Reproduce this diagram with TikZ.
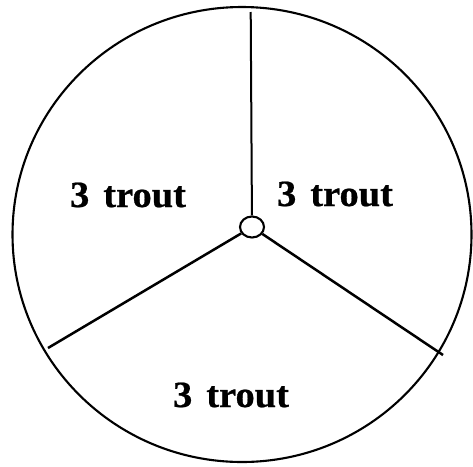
\documentclass[tikz,border=0pt]{standalone}
\usepackage{fontspec}
\setmainfont{Liberation Serif}[FakeStretch=1.04,FakeBold=0.6]
\usetikzlibrary{shapes.geometric}
\begin{document}
\begin{tikzpicture}[x=1pt,y=-1pt,
  rim/.style={line width=2.1pt},
  spoke/.style={line width=2.5pt},
  hubnode/.style={draw,ellipse,line width=2.1pt,minimum width=24pt,minimum height=21pt,inner sep=0pt},
  label/.style={anchor=base,inner sep=0pt,font=\fontsize{37}{37}\selectfont\bfseries}]
\useasboundingbox (0,0) rectangle (473,466);
\draw[rim] (242,234.5) ellipse [x radius=229.5, y radius=227.5];
\node[hubnode] (hub) at (252,227) {};
\coordinate (top) at (250.7,12);
\coordinate (left) at (48,348);
\coordinate (right) at (443,355);
\draw[spoke, line width=2pt] (hub) -- (top);
\draw[spoke] (hub) -- (left);
\draw[spoke] (hub) -- (right);
\node[label] (l1) at (128,207) {3\hspace{14pt}trout};
\node[label] (l2) at (335,206) {3\hspace{14pt}trout};
\node[label] (l3) at (231,407) {3\hspace{14pt}trout};
\end{tikzpicture}
\end{document}
